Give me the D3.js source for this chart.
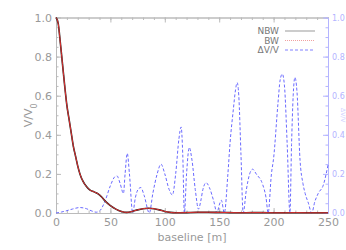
<!DOCTYPE html>
<html>
  <head>
    <title>Visibility vs baseline</title>
    <style>
      body {margin:0; background:#fff;}
      svg {display:block;}
      text {font-family:"DejaVu Sans", sans-serif;}
      .tick text {fill:#999;}
    </style>
    <script src="https://cdn.jsdelivr.net/npm/d3@7"></script>
  </head>
  <body>
    <svg id="chart" width="346" height="250"></svg>
    <script>
      var svgWidth  = 346;
      var svgHeight = 250;
      var margin    = {top: 17.5, bottom: 37, left: 56, right: 18};

      // NBW and BW, V/V0 against baseline [m]
      var baseline = [0, 2, 4, 6, 8, 10, 12, 14, 16, 18, 20, 22, 25, 28, 31, 35, 39, 42, 45, 50,
                      55, 60, 65, 70, 75, 80, 85, 90, 95, 100, 105, 110, 120, 130, 140, 150,
                      160, 170, 180, 190, 200, 210, 220, 230, 240, 250];
      var nbw = [1.0, 0.97, 0.87, 0.76, 0.65, 0.55, 0.48, 0.41, 0.34, 0.29, 0.24, 0.20, 0.16, 0.135,
                 0.118, 0.108, 0.097, 0.082, 0.062, 0.038, 0.02, 0.008, 0.003, 0.008, 0.016, 0.022,
                 0.024, 0.022, 0.016, 0.008, 0.003, 0.001, 0.002, 0.004, 0.004, 0.003, 0.002,
                 0.001, 0.002, 0.002, 0.001, 0.001, 0.001, 0.001, 0.001, 0.001];
      var bw  = [1.0, 0.97, 0.87, 0.76, 0.65, 0.55, 0.48, 0.41, 0.34, 0.29, 0.24, 0.20, 0.16, 0.135,
                 0.118, 0.108, 0.097, 0.082, 0.062, 0.038, 0.02, 0.008, 0.003, 0.008, 0.016, 0.022,
                 0.024, 0.022, 0.016, 0.008, 0.003, 0.001, 0.002, 0.004, 0.004, 0.003, 0.002,
                 0.001, 0.002, 0.002, 0.001, 0.001, 0.002, 0.001, 0.001, 0.001];

      // relative difference dV/V (right axis)
      var dvBaseline = [0, 5, 10, 15, 22, 28, 33, 37, 40, 45, 50, 54, 56, 59, 62, 63.5, 65.5, 67.5,
                        70.5, 73, 76, 78, 81, 85.8, 89, 93, 96.5, 100, 104, 107, 110, 113, 115,
                        116.5, 118, 120, 122.5, 125, 128, 131, 133, 135, 138, 141, 145, 148, 150,
                        152, 154.7, 158, 160, 163, 165, 166.5, 168, 170, 172, 175, 178, 180.7, 184,
                        190, 193, 195, 198, 200, 204, 206, 208, 210, 212.5, 215, 216.5, 218, 219.6,
                        221.5, 224.3, 227, 229, 232, 235, 238, 241, 245.7, 250];
      var dv = [0, 0.005, 0.012, 0.02, 0.028, 0.022, 0.01, 0.004, 0.01, 0.06, 0.14, 0.185, 0.19,
                0.15, 0.10, 0.2, 0.305, 0.2, 0.0, 0.08, 0.125, 0.13, 0.09, 0.0, 0.1, 0.2, 0.25,
                0.2, 0.12, 0.092, 0.2, 0.38, 0.44, 0.3, 0.0, 0.2, 0.335, 0.27, 0.12, 0.02, 0.06,
                0.12, 0.155, 0.13, 0.06, 0.0, 0.04, 0.065, 0.0, 0.2, 0.36, 0.53, 0.63, 0.667, 0.6,
                0.3, 0.0, 0.12, 0.2, 0.224, 0.2, 0.145, 0.08, 0.0, 0.2, 0.28, 0.56, 0.68, 0.711,
                0.65, 0.35, 0.0, 0.35, 0.6, 0.694, 0.62, 0.27, 0.15, 0.10, 0.05, 0.0, 0.06, 0.10,
                0.143, 0.245];

      var xTicks = [0, 50, 100, 150, 200, 250];
      var yTicks = [0.0, 0.2, 0.4, 0.6, 0.8, 1.0];
      var legendNames = ["NBW", "BW", "\u0394V/V"];

      var svg = d3.select("#chart");
      var x = d3.scaleLinear().domain([0, 250]).range([margin.left, svgWidth - margin.right]);
      var y = d3.scaleLinear().domain([0, 1]).range([svgHeight - margin.bottom, margin.top]);

      var axisColor = "#bbb";
      var blueAxis  = "#b4b4ff";
      var minorX = d3.range(0, 251, 10);
      var minorY = d3.range(0, 1.0001, 0.05);

      function styleAxis(g, col) {
        g.select(".domain").attr("stroke", col);
        g.selectAll(".tick line").attr("stroke", col);
      }

      // bottom axis (ticks inward)
      var gb = svg.append("g").attr("transform", "translate(0," + y(0) + ")")
        .call(d3.axisBottom(x).tickValues(xTicks).tickFormat(d3.format("d")).tickSizeInner(-5).tickSizeOuter(0).tickPadding(5));
      gb.selectAll("text").style("font-size", "11px");
      styleAxis(gb, axisColor);
      svg.append("g").attr("transform", "translate(0," + y(0) + ")")
        .call(d3.axisBottom(x).tickValues(minorX).tickFormat("").tickSizeInner(-2.5).tickSizeOuter(0))
        .call(styleAxis, axisColor);

      // top axis
      svg.append("g").attr("transform", "translate(0," + y(1) + ")")
        .call(d3.axisTop(x).tickValues(xTicks).tickFormat("").tickSizeInner(-5).tickSizeOuter(0))
        .call(styleAxis, axisColor);
      svg.append("g").attr("transform", "translate(0," + y(1) + ")")
        .call(d3.axisTop(x).tickValues(minorX).tickFormat("").tickSizeInner(-2.5).tickSizeOuter(0))
        .call(styleAxis, axisColor);

      // left axis
      var gl = svg.append("g").attr("transform", "translate(" + x(0) + ",0)")
        .call(d3.axisLeft(y).tickValues(yTicks).tickFormat(d3.format(".1f")).tickSizeInner(-5).tickSizeOuter(0).tickPadding(4));
      gl.selectAll("text").style("font-size", "11px");
      styleAxis(gl, axisColor);
      svg.append("g").attr("transform", "translate(" + x(0) + ",0)")
        .call(d3.axisLeft(y).tickValues(minorY).tickFormat("").tickSizeInner(-2.5).tickSizeOuter(0))
        .call(styleAxis, axisColor);

      // right axis (dV/V)
      var gr = svg.append("g").attr("transform", "translate(" + x(250) + ",0)")
        .call(d3.axisRight(y).tickValues(yTicks).tickFormat(d3.format(".1f")).tickSizeInner(-5).tickSizeOuter(0).tickPadding(4));
      gr.selectAll("text").style("font-size", "8px").style("fill", "#b4b4ff");
      styleAxis(gr, blueAxis);
      svg.append("g").attr("transform", "translate(" + x(250) + ",0)")
        .call(d3.axisRight(y).tickValues(minorY).tickFormat("").tickSizeInner(-2.5).tickSizeOuter(0))
        .call(styleAxis, blueAxis);

      // curves
      var line = d3.line().x(function(d) {return x(d[0]);}).y(function(d) {return y(d[1]);}).curve(d3.curveMonotoneX);

      svg.append("path").datum(dvBaseline.map(function(b, i) {return [b, dv[i]];}))
        .attr("d", line).attr("fill", "none").attr("stroke", "#6a6aff")
        .attr("stroke-width", 1).attr("stroke-dasharray", "3,2");
      svg.append("path").datum(baseline.map(function(b, i) {return [b, nbw[i]];}))
        .attr("d", line).attr("fill", "none").attr("stroke", "#222").attr("stroke-width", 1.6);
      svg.append("path").datum(baseline.map(function(b, i) {return [b, bw[i]];}))
        .attr("d", line).attr("fill", "none").attr("stroke", "#e03030").attr("stroke-width", 1);

      // axis titles
      svg.append("text").attr("x", x(125)).attr("y", 241).attr("text-anchor", "middle")
        .style("font-size", "11px").style("fill", "#999").text("baseline [m]");
      var yl = svg.append("text").attr("transform", "translate(32," + y(0.5) + ") rotate(-90)")
        .attr("text-anchor", "middle").style("font-size", "11px").style("fill", "#999");
      yl.append("tspan").text("V/V");
      yl.append("tspan").attr("baseline-shift", "sub").style("font-size", "8px").text("0");
      svg.append("text").attr("transform", "translate(341," + y(0.5) + ") rotate(90)")
        .attr("text-anchor", "middle").style("font-size", "6px").style("fill", "#d0d0ff").text("\u0394V/V");

      // legend
      var legColors = ["#999", "#f0a0a0", "#8080ff"];
      var legDash = ["none", "1,1", "3,2"];
      var leg = svg.selectAll(".leg").data(legendNames).enter().append("g")
        .attr("transform", function(d, i) {return "translate(0," + (31 + i * 9.5) + ")";});
      leg.append("text").attr("x", 279).attr("y", 3).attr("text-anchor", "end")
        .style("font-size", "9px").style("fill", "#777").text(function(d) {return d;});
      leg.append("line").attr("x1", 285).attr("x2", 315).attr("y1", 0).attr("y2", 0)
        .attr("stroke", function(d, i) {return legColors[i];})
        .attr("stroke-dasharray", function(d, i) {return legDash[i];});
    </script>
  </body>
</html>
